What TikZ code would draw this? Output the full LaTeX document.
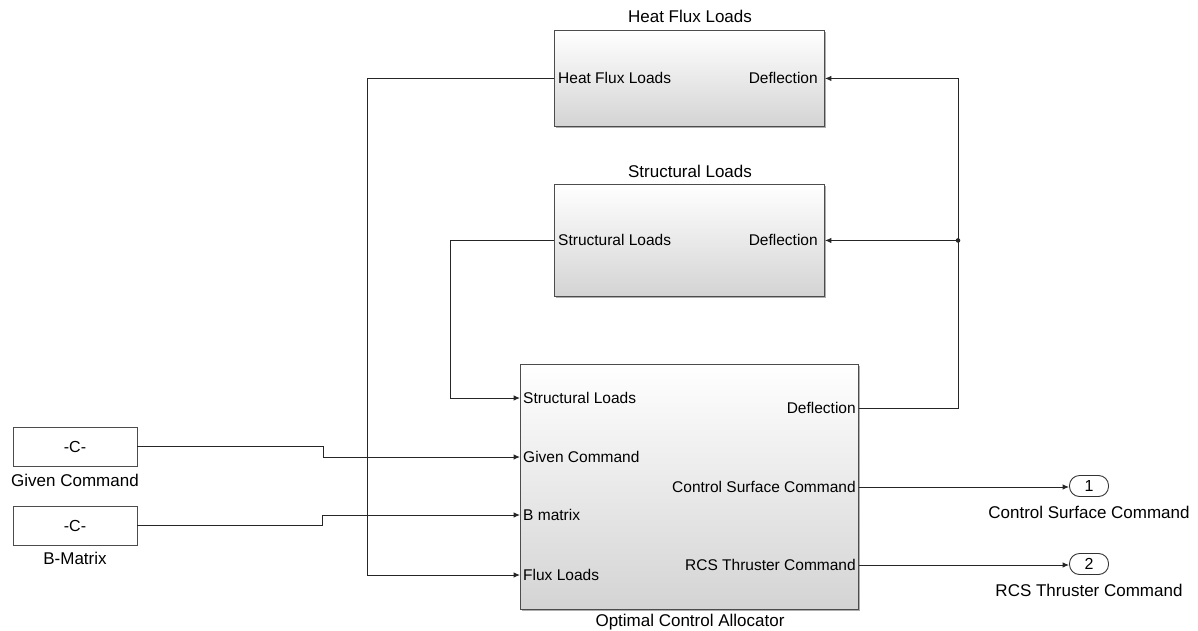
\documentclass[tikz,border=0pt]{standalone}
\usepackage{fontspec}
\setmainfont{Liberation Sans}
\usetikzlibrary{arrows.meta,shadows,calc}

\begin{document}
\begin{tikzpicture}[x=1pt,y=-1pt,
  subsys/.style={draw=black!70, line width=0.9pt, anchor=north west, inner sep=0pt,
    top color=white, middle color=white, bottom color=black!17,
    drop shadow={shadow xshift=1.6pt, shadow yshift=-1.6pt, fill=black!45, opacity=0.7}},
  constblk/.style={draw=black!70, line width=0.9pt, fill=white, inner sep=0pt,
    minimum width=124pt, minimum height=39pt, font=\fontsize{16}{18}\selectfont},
  outport/.style={draw=black!80, line width=0.9pt, fill=white, rounded corners=10pt,
    minimum width=39pt, minimum height=21pt, inner sep=0pt, font=\fontsize{16}{18}\selectfont},
  title/.style={font=\fontsize{17}{20}\selectfont, inner sep=0pt},
  portlbl/.style={font=\fontsize{15.5}{18}\selectfont, inner sep=0pt},
  wire/.style={draw=black!85, line width=1pt},
  sig/.style={wire, -{Latex[length=6.5pt,width=5.5pt]}}
]
\useasboundingbox (0,0) rectangle (1198,631);

% ---- subsystem blocks ----
\node[subsys, minimum width=270pt, minimum height=96pt]  (hf)  at (554,30)  {};
\node[subsys, minimum width=270pt, minimum height=112pt] (st)  at (554,184) {};
\node[subsys, minimum width=338pt, minimum height=245pt] (oca) at (520,364) {};

\node[title] (hft)  at (690,16)  {Heat Flux Loads};
\node[title] (stt)  at (690,171) {Structural Loads};
\node[title] (ocat) at (690,622) {Optimal Control Allocator};

% port positions on the allocator
\coordinate (oca-sl) at ($(oca.north west)+(0,34)$);
\coordinate (oca-gc) at ($(oca.north west)+(0,93)$);
\coordinate (oca-bm) at ($(oca.north west)+(0,151)$);
\coordinate (oca-fl) at ($(oca.north west)+(0,211)$);
\coordinate (oca-df) at ($(oca.north east)+(0,44)$);
\coordinate (oca-cs) at ($(oca.north east)+(0,123)$);
\coordinate (oca-rc) at ($(oca.north east)+(0,201)$);

% port labels
\node[portlbl, anchor=west] (hf-l) at ($(hf.west)+(4,0)$) {Heat Flux Loads};
\node[portlbl, anchor=east] (hf-r) at ($(hf.east)+(-7,0)$) {Deflection};
\node[portlbl, anchor=west] (st-l) at ($(st.west)+(4,0)$) {Structural Loads};
\node[portlbl, anchor=east] (st-r) at ($(st.east)+(-7,0)$) {Deflection};
\node[portlbl, anchor=west] (o1) at ($(oca-sl)+(3,0)$) {Structural Loads};
\node[portlbl, anchor=west] (o2) at ($(oca-gc)+(3,0)$) {Given Command};
\node[portlbl, anchor=west] (o3) at ($(oca-bm)+(3,0)$) {B matrix};
\node[portlbl, anchor=west] (o4) at ($(oca-fl)+(3,0)$) {Flux Loads};
\node[portlbl, anchor=east] (o5) at ($(oca-df)+(-3,0)$) {Deflection};
\node[portlbl, anchor=east] (o6) at ($(oca-cs)+(-3,0)$) {Control Surface Command};
\node[portlbl, anchor=east] (o7) at ($(oca-rc)+(-3,0)$) {RCS Thruster Command};

% ---- constant sources ----
\node[constblk] (gc) at (75,446.5) {-C-};
\node[constblk] (bm) at (75,525.5) {-C-};
\node[title] (gct) at (75,480) {Given Command};
\node[title] (bmt) at (75,558) {B-Matrix};

% ---- outports ----
\node[outport] (out1) at (1089,486) {1};
\node[outport] (out2) at (1089,564) {2};
\node[title] (out1t) at (1089,512) {Control Surface Command};
\node[title] (out2t) at (1089,590) {RCS Thruster Command};

% ---- routing columns ----
\coordinate (hfx) at (367,0);
\coordinate (stx) at (450,0);
\coordinate (gcx) at (323,0);
\coordinate (bmx) at (322,0);
\coordinate (jx)  at (958,0);
\coordinate (jn)  at (jx |- st.east);

% ---- signal lines ----
\draw[sig] (hf.west) -- (hf.west -| hfx) |- (oca-fl);
\draw[sig] (st.west) -- (st.west -| stx) |- (oca-sl);
\draw[sig] (gc.east) -- (gc.east -| gcx) |- (oca-gc);
\draw[sig] (bm.east) -- (bm.east -| bmx) |- (oca-bm);
\draw[sig] (oca-df) -- (oca-df -| jx) |- (hf.east);
\draw[sig] (jn) -- (st.east);
\fill[black!85] (jn) circle (2.3pt);
\draw[sig] (oca-cs) -- (out1.west |- oca-cs);
\draw[sig] (oca-rc) -- (out2.west |- oca-rc);
\end{tikzpicture}
\end{document}
